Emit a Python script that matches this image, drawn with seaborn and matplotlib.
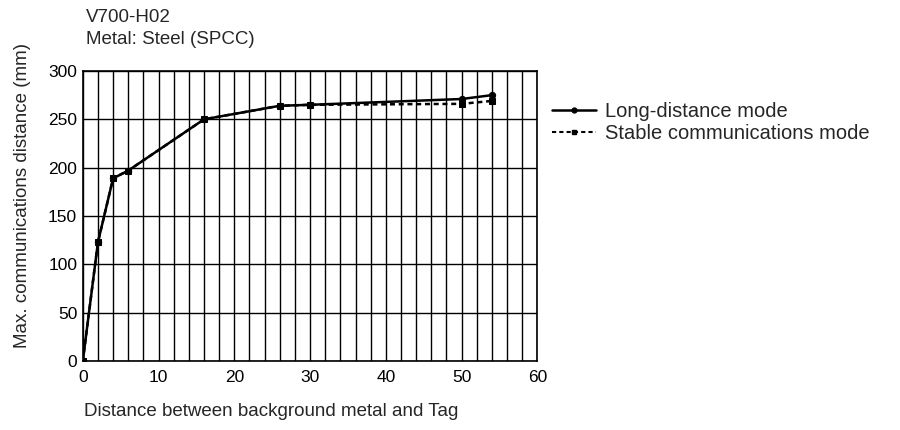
import pandas as pd
import matplotlib
matplotlib.use("Agg")
import matplotlib.pyplot as plt
from matplotlib.lines import Line2D
import seaborn as sns

# data
distance = [0, 2, 4, 6, 16, 26, 30, 50, 54]
long_mode = [0, 123, 189, 197, 250, 264, 265, 271, 275]
stable_mode = [0, 123, 189, 197, 250, 264, 265, 266, 269]
series_names = ["Long-distance mode", "Stable communications mode"]

df = pd.concat([
    pd.DataFrame({"x": distance, "y": long_mode, "mode": series_names[0]}),
    pd.DataFrame({"x": distance, "y": stable_mode, "mode": series_names[1]}),
])

sns.set_style("white")
plt.rcParams["font.family"] = ["Liberation Sans", "DejaVu Sans"]

fig = plt.figure(figsize=(9, 4.3), dpi=100)
ax = fig.add_axes([0.092, 0.160, 0.505, 0.675])

sns.lineplot(data=df, x="x", y="y", style="mode", markers=["o", "s"],
             dashes=[(None, None), (2, 1.5)], color="black", linewidth=1.8,
             markersize=4.5, markeredgecolor="black", ax=ax, legend=False,
             sort=False)

ax.set_xlim(0, 60)
ax.set_ylim(0, 300)
ax.set_xticks(range(0, 61, 10))
ax.set_yticks(range(0, 301, 50))
ax.set_xticks(range(0, 61, 2), minor=True)
ax.grid(True, which="both", axis="x", color="black", linewidth=1)
ax.grid(True, which="major", axis="y", color="black", linewidth=1)
ax.tick_params(which="both", length=0, labelsize=12.5, colors="black")
ax.tick_params(axis="y", pad=4)
ax.tick_params(axis="x", pad=6)
for s in ax.spines.values():
    s.set_color("black")
    s.set_linewidth(1.2)
ax.set_xlabel("")
ax.set_ylabel("")

fig.text(0.025, 1 - 196 / 430, "Max. communications distance (mm)",
         fontsize=13.5, rotation=90, ha="center", va="center")
fig.text(0.095, 1 - 17 / 430, "V700-H02", fontsize=13.5, va="center")
fig.text(0.095, 1 - 39 / 430, "Metal: Steel (SPCC)", fontsize=13.5, va="center")
fig.text(0.093, 1 - 411 / 430, "Distance between background metal and Tag",
         fontsize=13.5, va="center")

handles = [
    Line2D([], [], color="black", linewidth=1.8, marker="o", markersize=3.5),
    Line2D([], [], color="black", linewidth=1.5, linestyle=(0, (2, 1.5)),
           marker="s", markersize=3.5),
]
fig.legend(handles, series_names, loc="upper left",
           bbox_to_anchor=(0.613, 1 - 102 / 430), frameon=False, fontsize=14.5,
           handlelength=2.2, handletextpad=0.45, labelspacing=0.15,
           borderpad=0, borderaxespad=0)

fig.savefig("out.png", dpi=100)
